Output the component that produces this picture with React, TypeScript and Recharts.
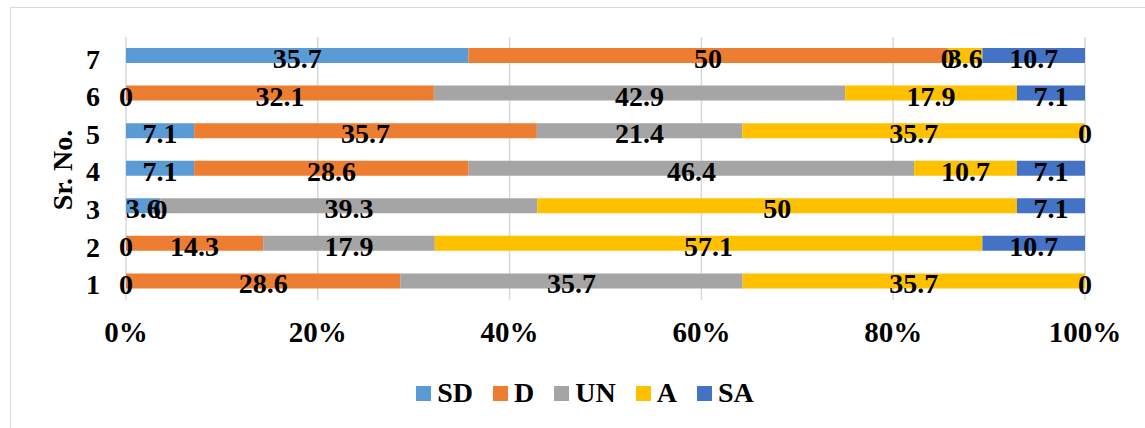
import React from 'react';
import { BarChart, Bar, XAxis, YAxis, CartesianGrid, Legend, LabelList, Label, ReferenceDot } from 'recharts';

const categories = ['1', '2', '3', '4', '5', '6', '7'];
const SD = [0, 0, 3.6, 7.1, 7.1, 0, 35.7];
const D = [28.6, 14.3, 0, 28.6, 35.7, 32.1, 50];
const UN = [35.7, 17.9, 39.3, 46.4, 21.4, 42.9, 0];
const A = [35.7, 57.1, 50, 10.7, 35.7, 17.9, 3.6];
const SA = [0, 10.7, 7.1, 7.1, 0, 7.1, 10.7];
const xTicks = [0, 0.2, 0.4, 0.6, 0.8, 1];

const seriesNames = ['SD', 'D', 'UN', 'A', 'SA'];
const seriesColors = ['#5B9BD5', '#ED7D31', '#A5A5A5', '#FFC000', '#4472C4'];
const seriesValues = [SD, D, UN, A, SA];

const data = categories.map((c, i) => {
  const row: Record<string, string | number> = { cat: c };
  seriesNames.forEach((n, k) => {
    row[n] = seriesValues[k][i];
  });
  return row;
});

// zero-valued segments: Excel still prints "0" at the segment's (empty) position
const zeroMarks: { cat: string; x: number; key: string }[] = [];
categories.forEach((c, i) => {
  const total = seriesValues.reduce((s, arr) => s + arr[i], 0);
  let cum = 0;
  seriesValues.forEach((arr, k) => {
    if (arr[i] === 0) zeroMarks.push({ cat: c, x: cum / total, key: `${c}-${seriesNames[k]}` });
    cum += arr[i];
  });
});

const FONT = '"Liberation Serif", "Times New Roman", serif';
const FS = 28;

const renderLabel = (props: any) => {
  const { x, y, width, height, value } = props;
  return (
    <text
      x={Number(x) + Number(width) / 2}
      y={Number(y) + Number(height) / 2 + 3}
      textAnchor="middle"
      dominantBaseline="central"
      fontFamily={FONT}
      fontWeight="bold"
      fontSize={FS}
      fill="#000"
    >
      {value}
    </text>
  );
};

const renderZero = (props: any) => (
  <text
    x={props.cx}
    y={Number(props.cy) + 3}
    textAnchor="middle"
    dominantBaseline="central"
    fontFamily={FONT}
    fontWeight="bold"
    fontSize={FS}
    fill="#000"
  >
    0
  </text>
);

const renderLegend = () => (
  <div
    style={{
      display: 'flex',
      justifyContent: 'center',
      alignItems: 'center',
      gap: 20,
      height: 30,
      fontFamily: FONT,
      fontWeight: 'bold',
      fontSize: 28,
      color: '#000',
    }}
  >
    {seriesNames.map((n, k) => (
      <div key={n} style={{ display: 'flex', alignItems: 'center' }}>
        <span
          style={{ display: 'inline-block', width: 15, height: 15, background: seriesColors[k], marginRight: 6 }}
        />
        <span style={{ lineHeight: '30px' }}>{n}</span>
      </div>
    ))}
  </div>
);

export default function App() {
  return (
    <div style={{ position: 'absolute', left: 0, top: 0, width: 1145, height: 428, overflow: 'hidden', background: '#fff' }}>
      <div
        style={{
          position: 'absolute',
          left: 10,
          top: 7,
          width: 1200,
          height: 500,
          border: '1px solid #d9d9d9',
          boxSizing: 'border-box',
        }}
      />
      <div style={{ position: 'absolute', left: 0, top: 0 }}>
        <BarChart
          width={1145}
          height={428}
          data={data}
          layout="vertical"
          stackOffset="expand"
          margin={{ top: 37, right: 60, bottom: 20, left: 0 }}
        >
          <CartesianGrid horizontal={false} vertical={true} stroke="#d9d9d9" strokeWidth={1.5} />
          <XAxis
            type="number"
            domain={[0, 1]}
            ticks={xTicks}
            tickFormatter={(v: number) => `${Math.round(v * 100)}%`}
            axisLine={false}
            tickLine={false}
            tickSize={0}
            tickMargin={21}
            height={78}
            tick={{ fontFamily: FONT, fontWeight: 'bold', fontSize: 29, fill: '#000' }}
          />
          <YAxis
            type="category"
            dataKey="cat"
            reversed
            axisLine={false}
            tickLine={false}
            tickSize={0}
            tickMargin={26}
            width={126}
            tick={{ fontFamily: FONT, fontWeight: 'bold', fontSize: FS, fill: '#000', dy: 3 }}
          >
            <Label
              content={() => (
                <text
                  x={62}
                  y={170}
                  transform="rotate(-90 62 170)"
                  textAnchor="middle"
                  dominantBaseline="central"
                  fontFamily={FONT}
                  fontWeight="bold"
                  fontSize={FS}
                  fill="#000"
                >
                  Sr. No.
                </text>
              )}
            />
          </YAxis>
          <Legend verticalAlign="bottom" content={renderLegend} wrapperStyle={{ left: 0, width: 1170 }} />
          {seriesNames.map((n, k) => (
            <Bar key={n} dataKey={n} stackId="s" fill={seriesColors[k]} barSize={15} isAnimationActive={false}>
              <LabelList dataKey={n} content={renderLabel} />
            </Bar>
          ))}
          {zeroMarks.map((z) => (
            <ReferenceDot key={z.key} x={z.x} y={z.cat} r={0} ifOverflow="visible" shape={renderZero} />
          ))}
        </BarChart>
      </div>
    </div>
  );
}
